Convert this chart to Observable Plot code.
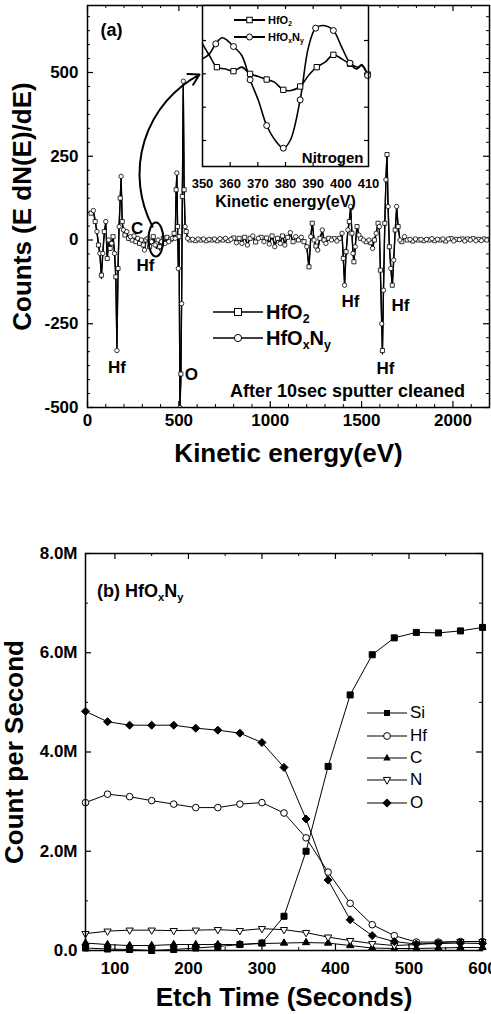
<!DOCTYPE html>
<html><head><meta charset="utf-8">
<script src="https://cdn.jsdelivr.net/npm/d3@7"></script>
<script src="https://cdn.jsdelivr.net/npm/@observablehq/plot@0.6"></script>
<style>
body{margin:0;background:#fff;}
#root{position:relative;width:491px;height:1014px;overflow:hidden;font-family:"Liberation Sans",Arial,sans-serif;color:#000;}
.abs{position:absolute;}
.leg{position:absolute;display:flex;align-items:center;white-space:nowrap;color:#000;}
.leg sub{font-size:0.62em;vertical-align:-0.35em;line-height:0;}
</style></head><body><div id="root"></div>
<script>
// ---------- Panel (a): Auger spectrum ----------
const energy = [20,32,42,52,60,68,76,84,92,100,
108,116,124,132,140,148,155,161,167,173,
179,184,190,197,205,215,225,235,245,255,
265,275,285,295,305,312,320,330,340,350,
360,370,378,386,395,405,415,425,435,445,
455,465,474,480,485,489,493,497,501,506,
511,515,519,524,529,534,540,548,560,575,
590,605,620,635,650,665,680,695,710,725,
740,755,770,785,800,815,830,845,860,875,
890,905,920,935,950,965,980,995,1010,1025,
1040,1055,1067,1080,1095,1110,1125,1140,1155,1170,
1185,1200,1212,1222,1230,1240,1250,1260,1272,1285,
1295,1305,1320,1335,1350,1365,1380,1393,1400,1407,
1415,1425,1433,1440,1447,1453,1458,1465,1475,1485,
1495,1510,1525,1540,1550,1560,1570,1580,1590,1597,
1603,1610,1614,1620,1627,1633,1639,1645,1652,1660,
1668,1676,1684,1692,1700,1710,1720,1735,1750,1765,
1780,1795,1810,1825,1840,1855,1870,1885,1900,1915,
1930,1945,1960,1975,1990,2005,2020,2035,2050,2065,
2080,2095,2110,2125,2140,2155,2170,2185,2200];
const countsHfO2 = [80,85,55,20,-15,-45,-105,-35,25,50,
-55,5,-25,-5,10,-35,-110,-320,-85,45,
125,185,55,25,15,20,5,10,0,10,
-5,8,-10,0,-15,-25,0,5,-20,-5,
10,-5,-10,5,-20,-5,5,-8,8,-3,
2,5,20,5,150,195,40,-80,10,-500,
-400,-180,130,465,150,40,25,5,0,3,
-2,2,0,3,-2,2,0,4,-2,3,
0,4,-2,3,6,-6,5,-8,8,-12,
5,10,-6,5,8,-4,6,-10,12,-15,
5,-8,12,-12,8,18,-5,8,0,6,
-5,-18,-80,10,50,0,-18,-25,5,25,
0,-8,5,0,4,-3,5,18,-55,-130,
-35,25,55,95,20,-35,-65,-20,40,15,
5,0,-5,0,-8,-22,0,18,50,35,
-90,-240,-330,-140,50,175,255,100,-20,-80,
-135,-55,30,95,40,0,-5,8,0,3,
-3,2,0,3,-2,2,0,3,-2,2,
0,3,-3,2,4,-2,2,0,3,-2,
3,0,4,-3,2,-2,3,0,2];
const countsHfOxNy = [85,88,60,25,-10,-40,-115,-40,20,55,
-60,0,-30,-10,5,-40,-115,-330,-90,40,
120,190,50,30,15,25,0,10,-5,12,
-10,5,-15,0,-20,-30,-5,5,-25,-5,
10,-15,-25,0,-30,-5,5,-10,8,-5,
2,5,25,5,145,200,40,-85,10,-500,
-420,-190,120,474,150,40,30,5,0,2,
-3,3,-1,3,-3,2,1,3,-2,4,
0,5,-3,2,8,-8,5,-10,10,-15,
5,12,-8,5,10,-5,8,-12,15,-20,
5,-10,15,-15,10,22,-5,10,0,8,
-5,-20,-85,10,55,0,-20,-30,5,30,
0,-10,5,0,5,-3,5,20,-60,-135,
-40,30,60,100,20,-40,-70,-20,45,15,
5,0,-5,0,-10,-25,0,20,55,40,
-100,-250,-340,-150,50,180,260,100,-20,-85,
-140,-60,30,100,40,0,-5,10,0,2,
-2,3,0,2,-3,2,0,4,-3,2,
-1,3,-2,3,0,-3,2,1,4,-3,
2,0,3,-2,3,-2,2,0,1];
const peakLabels = [
  {e:272, v:33, t:"C"},
  {e:317, v:-76, t:"Hf"},
  {e:161, v:-381, t:"Hf"},
  {e:569, v:-401, t:"O"},
  {e:1439, v:-184, t:"Hf"},
  {e:1713, v:-196, t:"Hf"},
  {e:1631, v:-384, t:"Hf"}
];
const noteA = [{e:1423, v:-452, t:"After 10sec sputter cleaned"}];
const panelTagA = [{e:71, v:625, t:"(a)"}];
const arrowA = [{x1:356, y1:40, x2:613, y2:494}];
const ellipseA = {e:377, v:0};
const aXMajor = [0,500,1000,1500,2000];
const aYMajor = [-500,-250,0,250,500];

// ---------- Inset: Nitrogen region ----------
const insetE_HfO2 = [350,352.5,355.2,358,361.2,364.2,367.2,370.2,373.2,376,379.2,382,385.3,388.3,391.3,394.3,397.3,400.3,403.3,406.3,407.5,409.7];
const insetV_HfO2 = [3.9,3.55,3.2,3.15,3.08,3.2,3.0,2.92,2.83,2.75,2.52,2.5,2.62,2.95,3.2,3.35,3.57,3.45,3.3,3.2,3.28,2.98];
const insetE_HfOxNy = [350,352.5,354.8,357,359,361.2,364.2,367.2,370.2,373.2,376.8,379.2,381.7,385.3,388.3,390.9,393.7,397.3,400.3,403.3,405.7,407.5,409.7];
const insetV_HfOxNy = [3.45,3.6,3.9,4.08,4.0,3.82,3.55,2.82,2.2,1.45,0.95,0.77,1.0,2.22,3.8,4.37,4.45,4.3,3.8,3.32,3.15,3.25,2.95];
const insetMarks_HfO2 = [355.2,361.2,367.2,373.2,379.2,385.3,391.3,397.3,403.3,409.7];
const insetMarks_HfOxNy = [354.8,361.2,367.2,373.2,379.2,385.3,390.9,397.3,403.3,409.7];
const insetXTicks = [350,360,370,380,390,400,410];

// ---------- Panel (b): depth profile ----------
const etchTime = [60,90,120,150,180,210,240,270,300,330,360,390,420,450,480,510,540,570,600];
const Si = [0.05,0.03,0.02,0.0,0.02,0.05,0.08,0.12,0.15,0.69,2.0,3.71,5.15,5.96,6.3,6.41,6.4,6.44,6.51];
const Hf = [2.98,3.15,3.10,3.02,2.95,2.88,2.88,2.95,2.98,2.77,2.27,1.58,0.95,0.52,0.30,0.17,0.17,0.18,0.18];
const C  = [0.15,0.12,0.10,0.10,0.12,0.12,0.12,0.12,0.14,0.15,0.16,0.15,0.10,0.05,0.04,0.04,0.05,0.06,0.06];
const N  = [0.34,0.39,0.41,0.41,0.40,0.41,0.42,0.40,0.44,0.42,0.36,0.27,0.20,0.14,0.10,0.12,0.16,0.18,0.18];
const O  = [4.82,4.61,4.54,4.54,4.54,4.48,4.44,4.38,4.19,3.69,2.65,1.42,0.62,0.30,0.18,0.13,0.14,0.15,0.14];
const bXMajor = [100,200,300,400,500,600];
const bYMajor = [0,2,4,6,8];

// ---------- build ----------
const FONT = '"Liberation Sans", Arial, sans-serif';
const root = document.getElementById("root");
function place(el, left, top){ const d=document.createElement("div"); d.className="abs"; d.style.left=left+"px"; d.style.top=top+"px"; d.appendChild(el); root.appendChild(d); return d; }
const baseStyle = {fontFamily: FONT, fontWeight: "bold", color: "black", background: "transparent", overflow: "visible"};

function ticksFor(major, minor, fw, fh, majLen, minLen, xs, ys){
  const m = [];
  if (xs) {
    m.push(Plot.tickX(major, {x: d=>d, insetTop: fh - majLen, stroke: "black", strokeWidth: 1.2}));
    m.push(Plot.tickX(major, {x: d=>d, insetBottom: fh - majLen, stroke: "black", strokeWidth: 1.2}));
    m.push(Plot.tickX(minor, {x: d=>d, insetTop: fh - minLen, stroke: "black", strokeWidth: 1}));
    m.push(Plot.tickX(minor, {x: d=>d, insetBottom: fh - minLen, stroke: "black", strokeWidth: 1}));
  }
  if (ys) {
    m.push(Plot.tickY(ys.major, {y: d=>d, insetRight: fw - majLen, stroke: "black", strokeWidth: 1.2}));
    m.push(Plot.tickY(ys.major, {y: d=>d, insetLeft: fw - majLen, stroke: "black", strokeWidth: 1.2}));
    m.push(Plot.tickY(ys.minor, {y: d=>d, insetRight: fw - minLen, stroke: "black", strokeWidth: 1}));
    m.push(Plot.tickY(ys.minor, {y: d=>d, insetLeft: fw - minLen, stroke: "black", strokeWidth: 1}));
  }
  return m;
}

// Panel A
const rowsO2 = energy.map((e,i)=>({e, v: countsHfO2[i], i}));
const rowsON = energy.map((e,i)=>({e, v: countsHfOxNy[i], i}));
const aXMinor = d3.range(100, 2200, 100).filter(d => d % 500 !== 0);
const aYMinor = d3.range(0, 29).filter(k => k % 6 !== 0).map(k => -500 + k*250/6);
const fwA = 491-87-2, fhA = 475-5-68;
const plotA = Plot.plot({
  width: 491, height: 475, marginLeft: 87, marginRight: 2, marginTop: 5, marginBottom: 68,
  x: {domain: [0, 2200]}, y: {domain: [-500, 700]},
  style: baseStyle,
  marks: [
    ...ticksFor(aXMajor, aXMinor, fwA, fhA, 6, 3, true, {major: aYMajor, minor: aYMinor}),
    Plot.axisX({ticks: aXMajor, tickSize: 0, tickPadding: 6, fontSize: 17, label: null, tickFormat: d => String(d)}),
    Plot.axisY({ticks: aYMajor, tickSize: 0, tickPadding: 9, fontSize: 17, label: null, tickFormat: d => String(d)}),
    Plot.line(rowsO2, {x: "e", y: "v", stroke: "black", strokeWidth: 1.3, clip: true}),
    Plot.line(rowsON, {x: "e", y: "v", stroke: "black", strokeWidth: 1.3, clip: true}),
    Plot.dot(rowsO2.filter(d => d.i % 2 === 0), {x: "e", y: "v", symbol: "square", r: 2.3, fill: "white", stroke: "black", strokeWidth: 0.8, clip: true}),
    Plot.dot(rowsON.filter(d => d.i % 2 === 1), {x: "e", y: "v", symbol: "circle", r: 2.2, fill: "white", stroke: "black", strokeWidth: 0.8, clip: true}),
    Plot.text(peakLabels, {x: "e", y: "v", text: "t", fontSize: 17, fill: "black"}),
    Plot.text(noteA, {x: "e", y: "v", text: "t", fontSize: 18, fill: "black"}),
    Plot.text(panelTagA, {x: "e", y: "v", text: "t", fontSize: 18, textAnchor: "start", fill: "black"}),
    Plot.arrow(arrowA, {x1: "x1", y1: "y1", x2: "x2", y2: "y2", bend: 45, stroke: "black", strokeWidth: 2, headLength: 9}),
    Plot.frame({stroke: "black", strokeWidth: 1.5}),
    Plot.text(["Kinetic energy(eV)"], {frameAnchor: "bottom", dy: 46, lineAnchor: "middle", textAnchor: "middle", text: d => d, fontSize: 26, fill: "black"}),
    Plot.text(["Counts (E dN(E)/dE)"], {frameAnchor: "left", dx: -65, rotate: -90, lineAnchor: "middle", textAnchor: "middle", text: d => d, fontSize: 26, fill: "black"})
  ]
});
{
  const sx = plotA.scale("x"), sy = plotA.scale("y");
  d3.select(plotA).append("ellipse")
    .attr("cx", sx.apply(ellipseA.e)).attr("cy", sy.apply(ellipseA.v))
    .attr("rx", 7.5).attr("ry", 17)
    .attr("fill", "none").attr("stroke", "black").attr("stroke-width", 2);
}
place(plotA, 0, 0);

// Inset
const insetRowsO2 = insetE_HfO2.map((e,i)=>({e, v: insetV_HfO2[i]}));
const insetRowsON = insetE_HfOxNy.map((e,i)=>({e, v: insetV_HfOxNy[i]}));
const fwI = 190-24, fhI = 210-5-44;
const plotI = Plot.plot({
  width: 190, height: 210, marginLeft: 12, marginRight: 12, marginTop: 5, marginBottom: 44,
  x: {domain: [350, 410]}, y: {domain: [0.22, 5.05], axis: null},
  style: baseStyle,
  marks: [
    Plot.frame({fill: "white", stroke: null}),
    ...ticksFor([360,370,380,390,400], [], fwI, fhI, 4, 2, true, {major: [1,2,3,4], minor: []}),
    Plot.axisX({ticks: insetXTicks, tickSize: 0, tickPadding: 12, fontSize: 13, label: null, tickFormat: d => String(d)}),
    Plot.line(insetRowsO2, {x: "e", y: "v", curve: "catmull-rom", stroke: "black", strokeWidth: 1.6}),
    Plot.line(insetRowsON, {x: "e", y: "v", curve: "catmull-rom", stroke: "black", strokeWidth: 1.6}),
    Plot.dot(insetRowsO2.filter(d => insetMarks_HfO2.includes(d.e)), {x: "e", y: "v", symbol: "square", r: 3, fill: "white", stroke: "black", strokeWidth: 1}),
    Plot.dot(insetRowsON.filter(d => insetMarks_HfOxNy.includes(d.e)), {x: "e", y: "v", symbol: "circle", r: 3, fill: "white", stroke: "black", strokeWidth: 1}),
    Plot.text(["Nitrogen"], {frameAnchor: "bottom-right", dx: -5, dy: -4, lineAnchor: "bottom", textAnchor: "end", text: d => d, fontSize: 15, fill: "black"}),
    Plot.text(["Kinetic energy(eV)"], {frameAnchor: "bottom", dy: 35, lineAnchor: "middle", textAnchor: "middle", text: d => d, fontSize: 16, fill: "black"}),
    Plot.frame({stroke: "black", strokeWidth: 1.5})
  ]
});
place(plotI, 190, 0);

// Panel B
const rowsB = etchTime.map((t,i)=>({t, Si: Si[i], Hf: Hf[i], C: C[i], N: N[i], O: O[i]}));
const triDown = {draw(context, size){ const y = -Math.sqrt(size / (Math.sqrt(3) * 3)); context.moveTo(0, -y*2); context.lineTo(-Math.sqrt(3)*y, y); context.lineTo(Math.sqrt(3)*y, y); context.closePath(); }};
const seriesB = [
  {key: "Si", symbol: "square", r: 3.4, fill: "black"},
  {key: "Hf", symbol: "circle", r: 3.3, fill: "white"},
  {key: "C", symbol: "triangle", r: 2.7, fill: "black"},
  {key: "N", symbol: triDown, r: 2.7, fill: "white"},
  {key: "O", symbol: "diamond2", r: 3.6, fill: "black"}
];
const fwB = 491-85-9, fhB = 504-43-64;
const bXMinor = [150,250,350,450,550];
const bYMinor = [1,3,5,7];
const plotB = Plot.plot({
  width: 491, height: 504, marginLeft: 85, marginRight: 9, marginTop: 43, marginBottom: 64,
  x: {domain: [60, 600]}, y: {domain: [0, 8]},
  style: baseStyle,
  marks: [
    ...ticksFor(bXMajor, bXMinor, fwB, fhB, 6, 3, true, {major: bYMajor, minor: bYMinor}),
    Plot.axisX({ticks: bXMajor, tickSize: 0, tickPadding: 11, fontSize: 17, label: null, tickFormat: d => String(d)}),
    Plot.axisY({ticks: bYMajor, tickSize: 0, tickPadding: 8, fontSize: 17, label: null, tickFormat: d => d === 0 ? "0.0" : d.toFixed(1) + "M"}),
    ...seriesB.map(s => Plot.line(rowsB, {x: "t", y: s.key, stroke: "black", strokeWidth: 1})),
    ...seriesB.map(s => Plot.dot(rowsB, {x: "t", y: s.key, symbol: s.symbol, r: s.r, fill: s.fill, stroke: "black", strokeWidth: 1})),
    Plot.frame({stroke: "black", strokeWidth: 1.5}),
    Plot.text(["Etch Time (Seconds)"], {frameAnchor: "bottom", dy: 47, lineAnchor: "middle", textAnchor: "middle", text: d => d, fontSize: 26, fill: "black"}),
    Plot.text(["Count per Second"], {frameAnchor: "left", dx: -71, rotate: -90, lineAnchor: "middle", textAnchor: "middle", text: d => d, fontSize: 26, fill: "black"})
  ]
});
place(plotB, 0, 510);

// ---------- legends & labels (HTML with subscripts) ----------
function legendRow(x, yc, sampleW, markerSvg, labelHtml, fontSize, fontWeight, lineW, gap){
  const div = document.createElement("div");
  div.className = "leg";
  div.style.left = x + "px"; div.style.top = (yc - 12) + "px"; div.style.height = "24px";
  div.innerHTML = `<svg width="${sampleW}" height="24" style="display:block;overflow:visible"><line x1="0" x2="${sampleW}" y1="12" y2="12" stroke="black" stroke-width="${lineW}"/><g transform="translate(${sampleW/2},12)">${markerSvg}</g></svg><span style="margin-left:${gap}px;font-size:${fontSize}px;font-weight:${fontWeight};line-height:24px">${labelHtml}</span>`;
  root.appendChild(div);
}
const sqOpen = s => `<rect x="${-s/2}" y="${-s/2}" width="${s}" height="${s}" fill="white" stroke="black" stroke-width="1"/>`;
const ciOpen = r => `<circle r="${r}" fill="white" stroke="black" stroke-width="1"/>`;
// Panel (a) legend
legendRow(213, 312, 50, sqOpen(7), "HfO<sub>2</sub>", 20, "bold", 1.5, 3);
legendRow(213, 338, 50, ciOpen(3.6), "HfO<sub>x</sub>N<sub>y</sub>", 20, "bold", 1.5, 3);
// Inset legend
legendRow(234, 20, 31, sqOpen(5.5), "HfO<sub>2</sub>", 11, "bold", 2, 3);
legendRow(234, 37, 31, ciOpen(3), "HfO<sub>x</sub>N<sub>y</sub>", 11, "bold", 2, 3);
// Panel (b) legend
const bLegend = [
  ["Si", `<rect x="-3" y="-3" width="6" height="6" fill="black"/>`, 713],
  ["Hf", `<circle r="3.4" fill="white" stroke="black"/>`, 736],
  ["C", `<path d="M0,-4.2L3.7,2.6L-3.7,2.6Z" fill="black"/>`, 758],
  ["N", `<path d="M0,4.2L3.7,-2.6L-3.7,-2.6Z" fill="white" stroke="black"/>`, 780],
  ["O", `<path d="M0,-4.6L4.6,0L0,4.6L-4.6,0Z" fill="black"/>`, 803]
];
bLegend.forEach(([t, m, y]) => legendRow(367, y, 40, m, t, 17, "normal", 1.2, 3));
// Panel (b) tag
{
  const div = document.createElement("div");
  div.className = "leg";
  div.style.left = "97px"; div.style.top = (591 - 12) + "px"; div.style.height = "24px";
  div.innerHTML = `<span style="font-size:18px;font-weight:bold;line-height:24px">(b) HfO<sub>x</sub>N<sub>y</sub></span>`;
  root.appendChild(div);
}
</script>
</body></html>
